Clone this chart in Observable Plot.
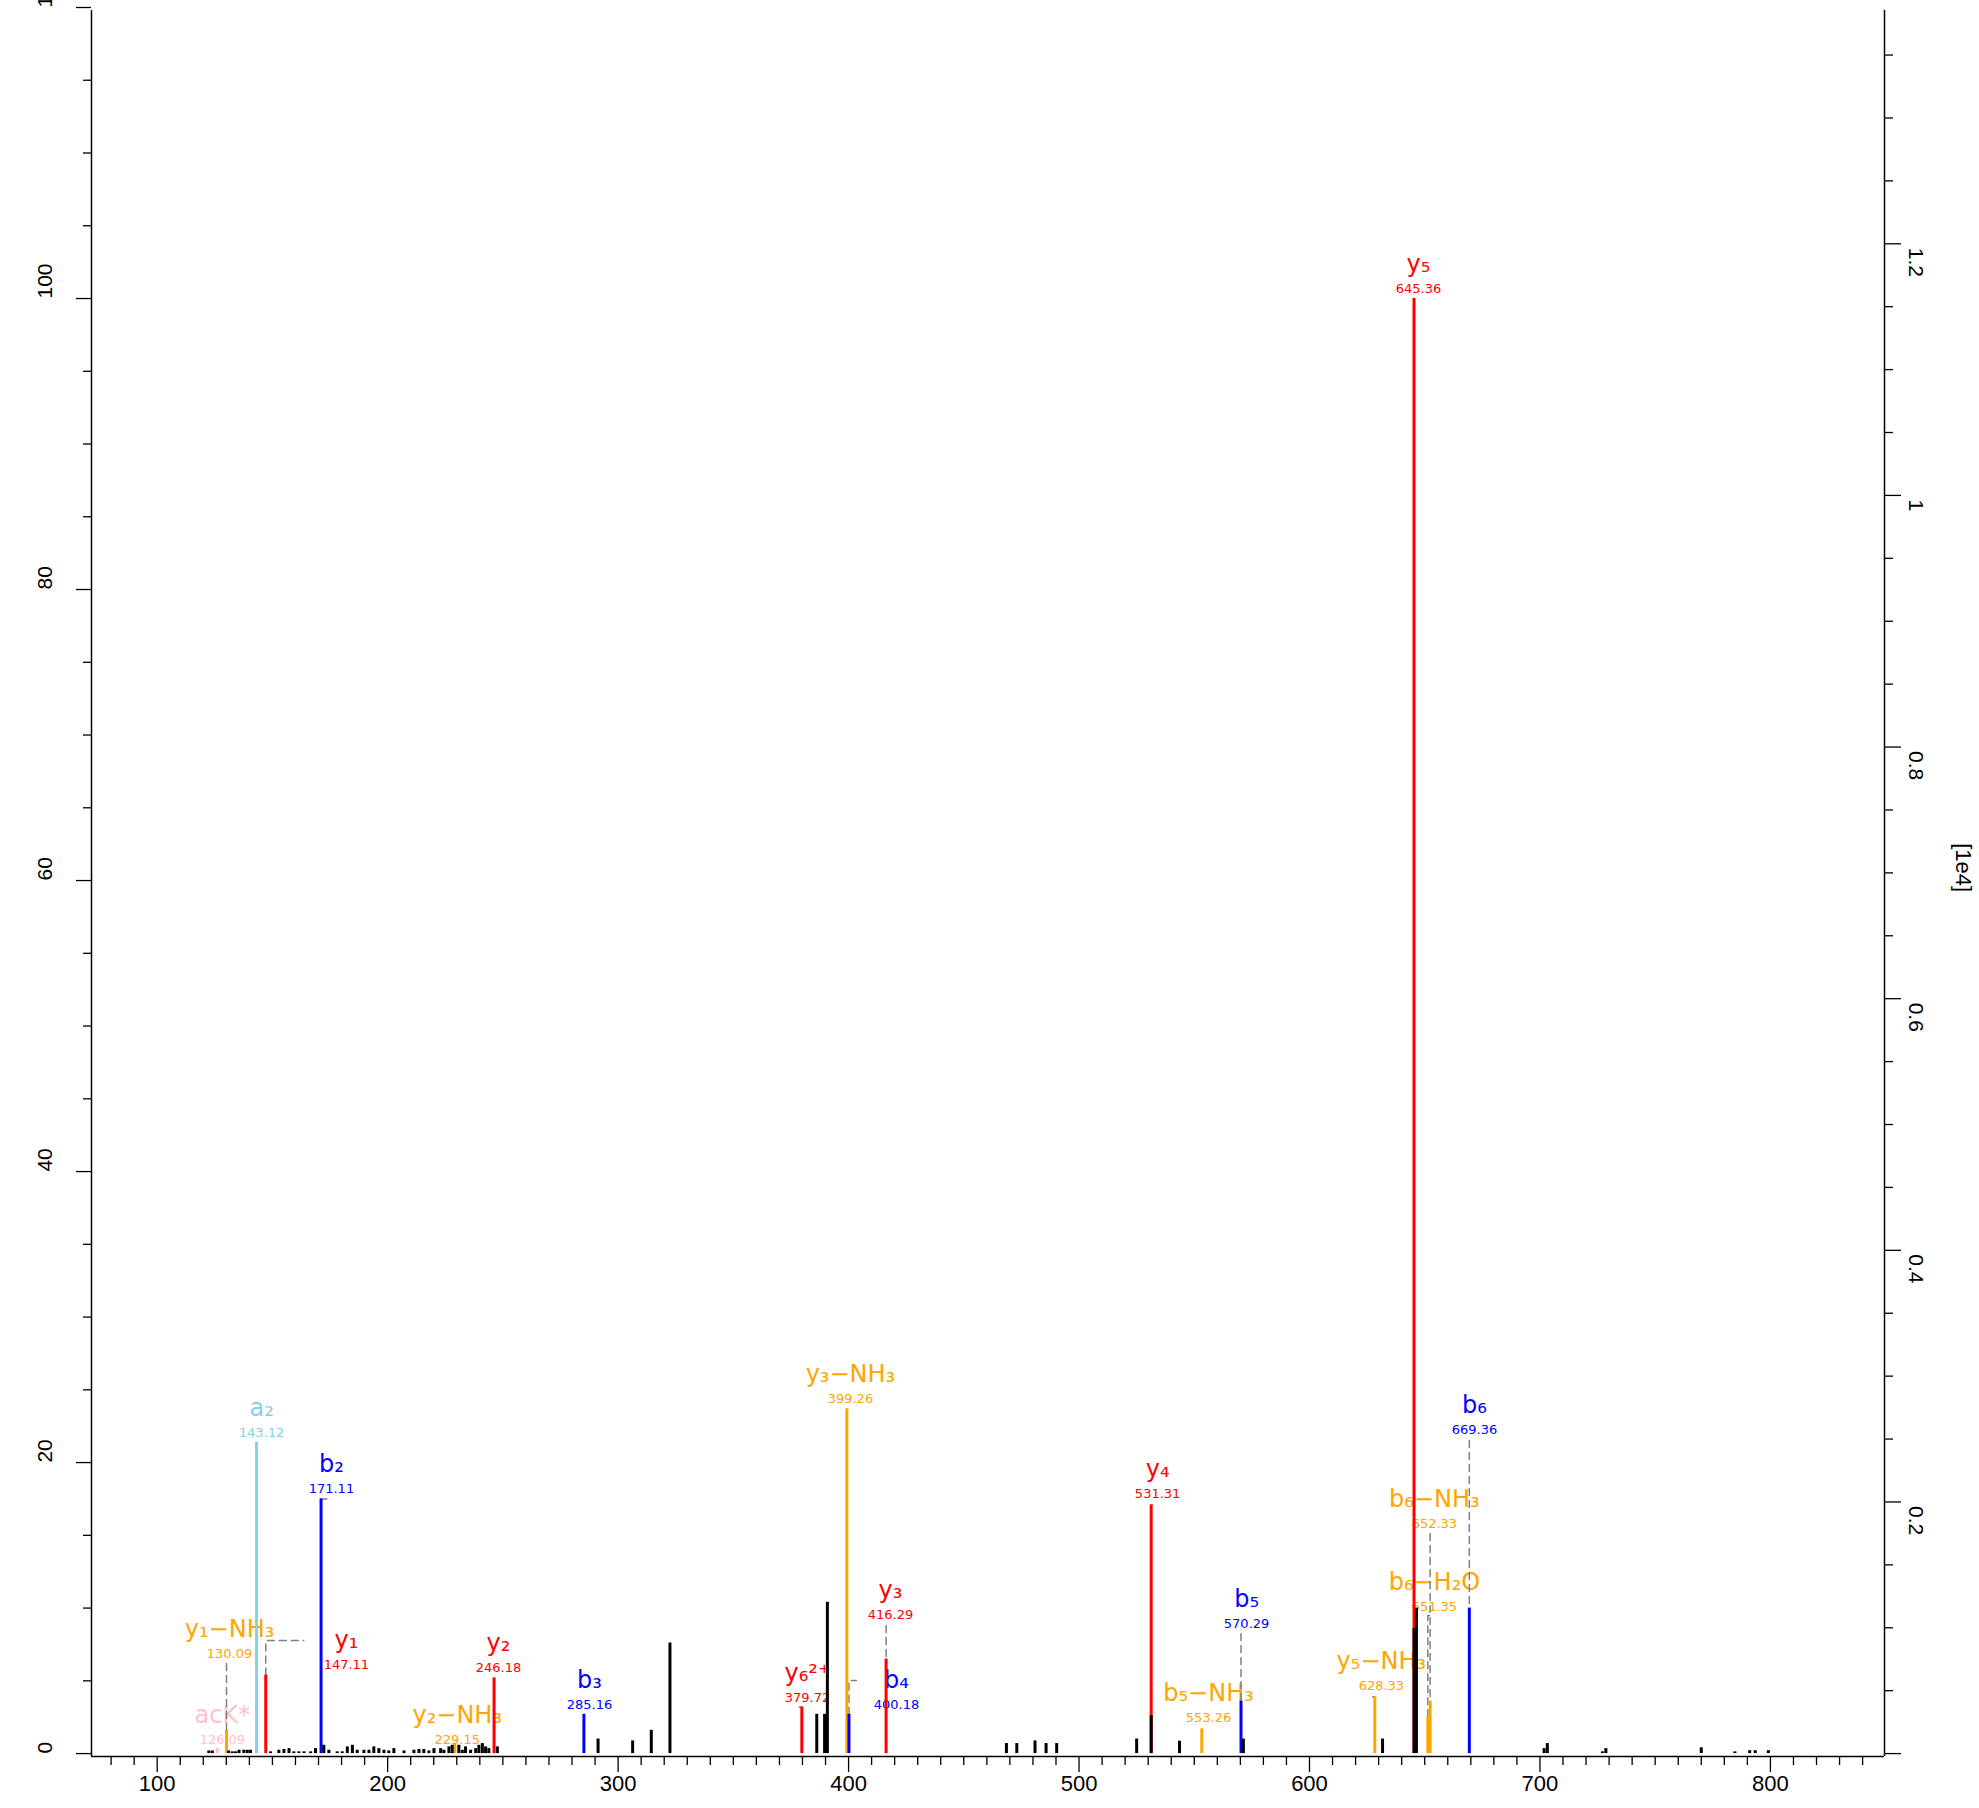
<!DOCTYPE html>
<html><head><meta charset="utf-8">
<script src="https://cdn.jsdelivr.net/npm/d3@7"></script>
<script src="https://cdn.jsdelivr.net/npm/@observablehq/plot@0.6"></script>
<style>body{margin:0;background:#fff}</style>
</head><body><div id="chart"></div>
<script>
// ---- annotated fragment ions ----
const ionNames = ["y₅","a₂","b₂","y₁−NH₃","y₁","acK*","y₂−NH₃","y₂","b₃","y₆²⁺","y₃−NH₃","b₄","y₃","y₄","b₅−NH₃","b₅","y₅−NH₃","b₆−NH₃","b₆−H₂O","b₆"];
const ionMz = [645.36,143.12,171.11,130.09,147.11,126.09,229.15,246.18,285.16,379.72,399.26,400.18,416.29,531.31,553.26,570.29,628.33,652.33,651.35,669.36];
const ionInt = [100,21.4,17.5,1.6,5.4,0.35,0.7,5.2,2.7,3.2,23.7,2.7,6.5,17.1,1.7,3.6,3.9,3.6,2.5,10.0];
const ionType = ["y","a","b","loss","y","imm","loss","y","b","y","loss","b","y","y","loss","b","loss","loss","loss","b"];
// label anchor (m/z, relative intensity) of the m/z text
const labelMz = [647.3,145.3,175.6,131.4,182.1,128.3,230.2,248.1,287.6,382.2,400.8,420.8,418.2,534.1,556.2,572.7,631.2,654.2,654.2,671.6];
const labelInt = [100.69,22.07,18.22,6.88,6.12,0.97,0.97,5.92,3.37,3.85,24.40,3.37,9.56,17.87,2.48,8.94,4.68,15.81,10.11,22.27];

// ---- unannotated peaks ----
const otherMz = [122.4,123.9,131.0,132.6,134.0,135.5,137.6,139.1,140.5,149.2,152.8,155.0,157.2,159.3,161.5,163.7,166.6,168.7,172.3,174.5,178.1,180.3,182.5,184.7,186.8,189.7,191.9,194.0,196.2,198.4,200.5,202.7,207.1,211.4,213.6,215.7,217.9,220.1,223.0,224.4,226.6,228.0,230.9,232.4,233.8,236.0,238.2,239.6,241.1,242.5,243.9,247.6,
  291.3,306.3,314.4,322.5,386.2,389.6,390.8,468.5,473.0,480.9,485.7,490.3,525.0,531.31,543.6,571.3,631.7,645.36,646.4,701.8,703.2,727.1,728.6,770.0,784.6,791.0,793.4,799.1];
const otherInt = [0.18,0.18,0.18,0.12,0.12,0.23,0.23,0.23,0.23,0.12,0.23,0.28,0.34,0.12,0.12,0.12,0.12,0.34,0.57,0.23,0.12,0.12,0.46,0.57,0.23,0.23,0.23,0.46,0.34,0.23,0.18,0.34,0.18,0.23,0.28,0.28,0.18,0.34,0.34,0.23,0.46,0.57,0.57,0.23,0.46,0.23,0.34,0.57,0.69,0.46,0.34,0.46,
  1.0,0.87,1.6,7.6,2.7,2.7,10.4,0.69,0.69,0.87,0.69,0.69,1.0,2.6,0.85,1.0,1.0,8.6,10.0,0.34,0.69,0.12,0.34,0.4,0.12,0.2,0.2,0.2];

// ---- dashed leader lines (m/z, intensity) ----
const leaderPaths = [
  [[130.09,6.19],[130.09,1.6]],
  [[147.11,5.4],[147.11,7.77],[163.6,7.77]],
  [[171.11,17.5],[173.6,17.5]],
  [[378.6,3.2],[379.72,3.2]],
  [[400.18,2.7],[400.18,5.02],[403.4,5.02]],
  [[416.29,8.8],[416.29,6.5]],
  [[570.29,8.25],[570.29,3.6]],
  [[627.4,3.9],[628.33,3.9]],
  [[652.33,15.13],[652.33,2.5]],
  [[652.1,9.49],[651.35,9.49],[651.35,2.5]],
  [[669.36,21.52],[669.36,10.0]]
];

// ---- axes ----
const xDomain = [71.5, 849.5];
const yDomain = [-0.2, 120];
const xMajor = [100,200,300,400,500,600,700,800];
const xMinor = d3.range(80, 850, 10).filter(v => v % 100 !== 0);
const yMajor = [0,20,40,60,80,100,120];
const yMinor = d3.range(0, 121, 5).filter(v => v % 20 !== 0);
const rightMajor = [0,0.2,0.4,0.6,0.8,1.0,1.2];
const rightLabels = ["0","0.2","0.4","0.6","0.8","1","1.2"];
const rightMinor = [0.05,0.1,0.15,0.25,0.3,0.35,0.45,0.5,0.55,0.65,0.7,0.75,0.85,0.9,0.95,1.05,1.1,1.15,1.25,1.3,1.35];
const maxAbs = 1.1565; // base-peak intensity in units of 1e4
const toLeft = r => r * 100 / maxAbs;
const rightTitle = "[1e4]";
const rightTitleAt = 59.2;

const types = ["y","b","a","loss","imm","other"];
const typeColors = ["#ff0000","#0000ff","#87ceeb","#ffa500","#ffc0cb","#000000"];

const ions = ionNames.map((n,i) => ({name:n, mz:ionMz[i], int:ionInt[i], type:ionType[i], lx:labelMz[i], ly:labelInt[i], mass:ionMz[i].toFixed(2)}));
const others = otherMz.map((m,i) => ({mz:m, int:otherInt[i], type:"other"}));
const leaders = leaderPaths.flatMap((p,k) => p.map(([m,v]) => ({id:k, mz:m, int:v})));

const axisFont = "Liberation Sans, Arial, Helvetica, sans-serif";
const labFont = "DejaVu Sans, Verdana, sans-serif";

const chart = Plot.plot({
  width: 1979, height: 1808,
  marginLeft: 91, marginRight: 95, marginTop: 7, marginBottom: 52,
  x: {domain: xDomain, axis: null},
  y: {domain: yDomain, axis: null},
  color: {domain: types, range: typeColors},
  style: {background: "#fff", overflow: "visible"},
  marks: [
    // labels
    Plot.text(ions, {x:"lx", y:"ly", text:"mass", fill:"type", fontSize:13, fontFamily:labFont}),
    Plot.text(ions, {x:"lx", y:"ly", text:"name", fill:"type", fontSize:24, dy:-24, fontFamily:labFont}),
    // leader lines
    Plot.line(leaders, {x:"mz", y:"int", z:"id", stroke:"#808080", strokeWidth:1.5, strokeDasharray:"7,5"}),
    // annotated peaks
    Plot.ruleX(ions, {x:"mz", y1:0, y2:"int", stroke:"type", strokeWidth:3}),
    // other peaks
    Plot.ruleX(others, {x:"mz", y1:0, y2:"int", stroke:"type", strokeWidth:3}),
    // axis lines
    Plot.ruleX([xDomain[0], xDomain[1]], {y1:yDomain[0], y2:119.79, stroke:"#000", strokeWidth:1.5}),
    Plot.ruleY([yDomain[0]], {x1:xDomain[0], x2:xDomain[1], stroke:"#000", strokeWidth:1.5}),
    // x ticks
    Plot.axisX({ticks: xMajor, tickSize: 16, tickFormat: () => "", stroke:"#000", strokeWidth:1.3}),
    Plot.axisX({ticks: xMinor, tickSize: 9, tickFormat: () => "", stroke:"#000", strokeWidth:1.3}),
    Plot.text(xMajor, {x: d => d, text: d => String(d), frameAnchor:"bottom", dy:34, fontSize:22, fontFamily:axisFont, fill:"#000"}),
    // left y ticks
    Plot.axisY({anchor:"left", ticks: yMajor, tickSize: 15, tickFormat: () => "", stroke:"#000", strokeWidth:1.3}),
    Plot.axisY({anchor:"left", ticks: yMinor, tickSize: 8, tickFormat: () => "", stroke:"#000", strokeWidth:1.3}),
    Plot.text(yMajor, {y: d => d, text: d => String(d), frameAnchor:"left", dx:-46, rotate:-90, fontSize:21, fontFamily:axisFont, fill:"#000"}),
    // right y ticks (absolute intensity, 1e4)
    Plot.axisY({anchor:"right", ticks: rightMajor.map(toLeft), tickSize: 16, tickFormat: () => "", stroke:"#000", strokeWidth:1.3}),
    Plot.axisY({anchor:"right", ticks: rightMinor.map(toLeft), tickSize: 8, tickFormat: () => "", stroke:"#000", strokeWidth:1.3}),
    Plot.text(rightMajor.slice(1), {y: d => toLeft(d), text: (d,i) => rightLabels[i+1], frameAnchor:"right", dx:31, dy:4, rotate:90, textAnchor:"start", fontSize:21, fontFamily:axisFont, fill:"#000"}),
    Plot.text([rightTitle], {y: () => rightTitleAt, text: d => d, frameAnchor:"right", dx:79, rotate:90, fontSize:22, fontFamily:axisFont, fill:"#000"})
  ]
});
document.getElementById("chart").appendChild(chart);
</script>
</body></html>
